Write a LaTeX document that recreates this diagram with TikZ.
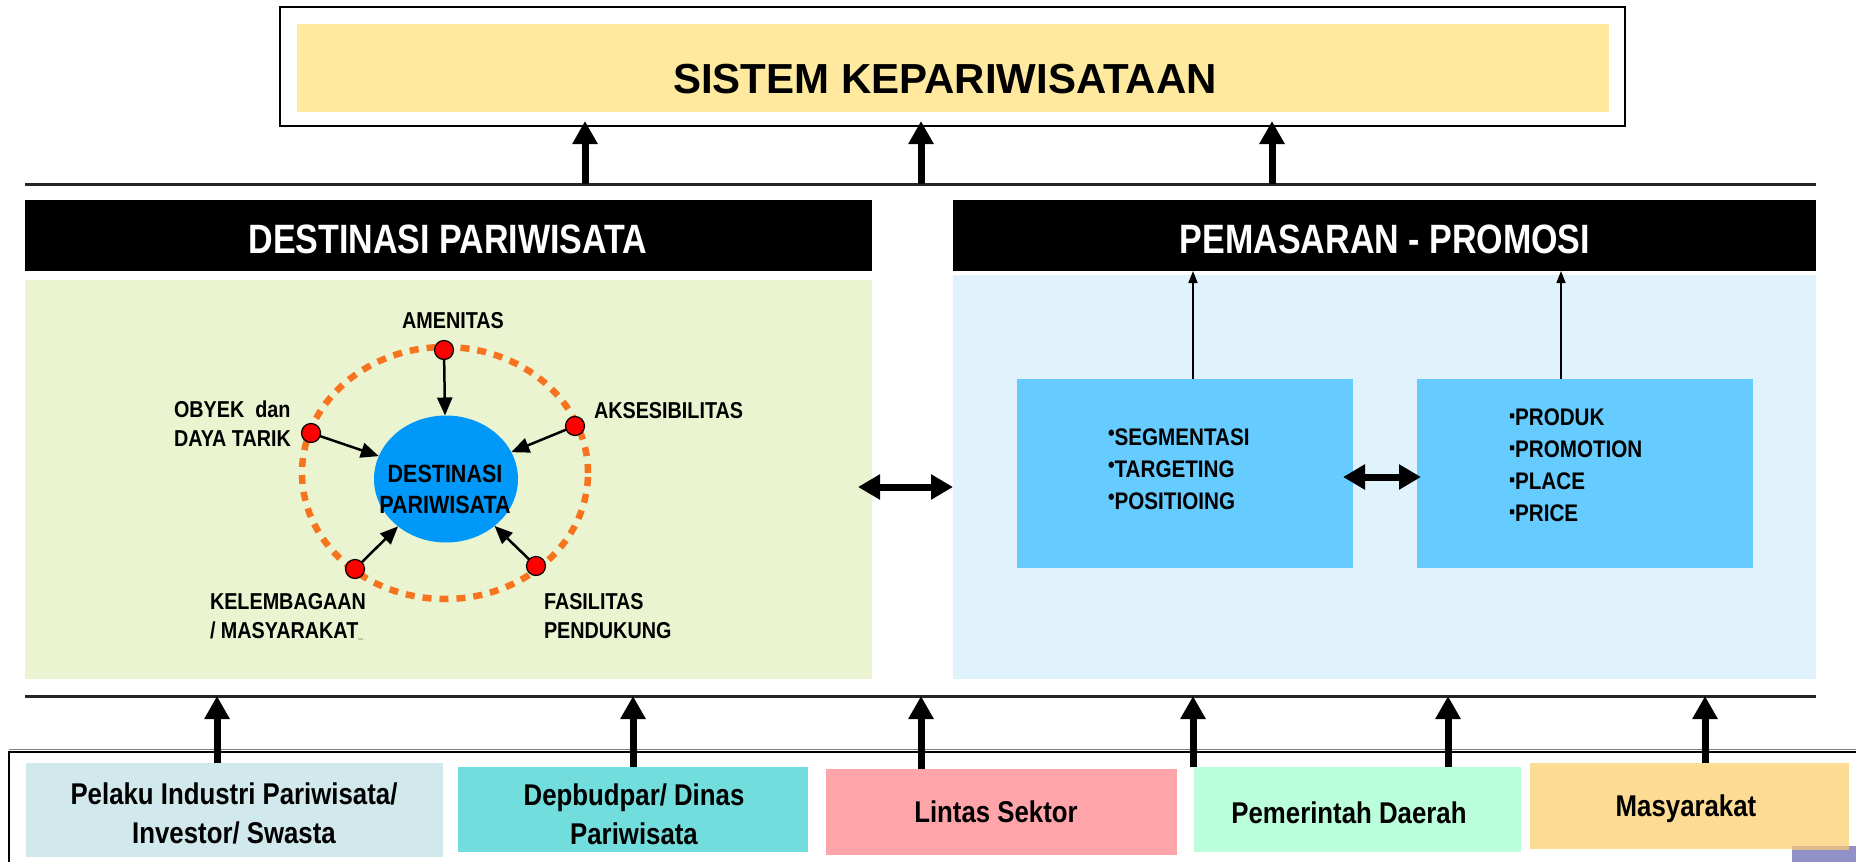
\documentclass[tikz,border=0pt]{standalone}
\usepackage{fontspec}
\setmainfont{Liberation Sans}
\newfontfamily\hdfont[FakeStretch=0.83]{Liberation Sans}
\newfontfamily\nrw[FakeStretch=0.86]{Liberation Sans}
\usetikzlibrary{arrows.meta,shapes.geometric}
\definecolor{titlefill}{HTML}{FEE99E}
\definecolor{greenpanel}{HTML}{EBF4D1}
\definecolor{bluepanel}{HTML}{E0F2FC}
\definecolor{innerblue}{HTML}{66CCFF}
\definecolor{destblue}{HTML}{0099FA}
\definecolor{ringorange}{HTML}{F7731E}
\definecolor{dotred}{HTML}{FF0000}
\definecolor{bOne}{HTML}{D1E8EC}
\definecolor{bTwo}{HTML}{72DDDD}
\definecolor{bThree}{HTML}{FFA5AA}
\definecolor{bFour}{HTML}{BBFEDB}
\definecolor{bFive}{HTML}{FCDB95}
\definecolor{lav}{HTML}{9191C8}
\definecolor{tanstrip}{HTML}{DDB98B}
\newcommand{\rndbul}{{\fontsize{22}{22}\selectfont\raisebox{5pt}{•}}}
\newcommand{\sqbul}{{\fontsize{20}{20}\selectfont\raisebox{3pt}{▪}}}
\begin{document}
\begin{tikzpicture}[x=1pt,y=-1pt,
 rect/.style={rectangle,inner sep=0pt,outer sep=0pt,draw=none},
 lbl/.style={inner sep=0pt,outer sep=0pt,font=\nrw\bfseries\fontsize{23}{29}\selectfont,align=left},
 btxt/.style={inner sep=0pt,outer sep=0pt,font=\nrw\bfseries\fontsize{30}{39}\selectfont,align=center},
 bigarr/.style={line width=7pt,-{Triangle[length=23pt,width=24pt]}},
 dblarr/.style={line width=7pt,{Triangle[length=22pt,width=24pt]}-{Triangle[length=22pt,width=24pt]}},
 thinarr/.style={line width=1.5pt,-{Triangle[length=12pt,width=9pt]}},
 ringarr/.style={line width=2.5pt,-{Triangle[length=18pt,width=15pt]}},
 dot/.style={circle,draw=black,line width=1.2pt,fill=dotred,minimum size=19pt,inner sep=0pt,outer sep=0pt},
 hline/.style={line width=3pt,black!85},
]
\useasboundingbox (0,0) rectangle (1856,862);

% ---------- top system box
\node[rect,draw=black,line width=2pt,fill=white,minimum width=1345pt,minimum height=119pt] (top) at (952.5,66.5) {};
\node[rect,fill=titlefill,minimum width=1312pt,minimum height=88pt] (title) at (953,68) {};
\node[anchor=base,inner sep=0pt,font=\bfseries\fontsize{42}{42}\selectfont] (titletxt) at (945,93) {SISTEM KEPARIWISATAAN};

\draw[hline] (25,184) -- (1816,184);
\coordinate (u1) at (585,184);
\coordinate (u2) at (921,184);
\coordinate (u3) at (1272,184);
\foreach \u in {u1,u2,u3}
  \draw[bigarr,shorten >=-5pt] (\u) -- (\u |- top.south);

% ---------- headers
\node[rect,fill=black,minimum width=847pt,minimum height=71pt] (hdL) at (448.5,235.5) {};
\node[rect,fill=black,minimum width=863pt,minimum height=71pt] (hdR) at (1384.5,235.5) {};
\node[anchor=base,inner sep=0pt,text=white,font=\hdfont\bfseries\fontsize{41}{41}\selectfont] (hdLtxt) at (448,253) {DESTINASI PARIWISATA};
\node[anchor=base,inner sep=0pt,text=white,font=\hdfont\bfseries\fontsize{41}{41}\selectfont] (hdRtxt) at (1385,253) {PEMASARAN - PROMOSI};

% ---------- panels
\node[rect,fill=greenpanel,minimum width=847pt,minimum height=399pt] (green) at (448.5,479.5) {};
\node[rect,fill=bluepanel,minimum width=863pt,minimum height=404pt] (blue) at (1384.5,477) {};

% ---------- destination diagram
\node[ellipse,draw=ringorange,line width=6.5pt,dash pattern=on 9pt off 8pt,minimum width=286pt,minimum height=252pt,inner sep=0pt] (ring) at (445,473) {};
\node[ellipse,fill=destblue,minimum width=144pt,minimum height=127pt,inner sep=0pt,outer sep=0pt] (dest) at (446,479) {};
\node[dot] (dT) at (444,350) {};
\node[dot] (dL) at (311,433) {};
\node[dot] (dR) at (575,426) {};
\node[dot] (dBL) at (355,569) {};
\node[dot] (dBR) at (536,566) {};
\node[anchor=base,inner sep=0pt,font=\nrw\bfseries\fontsize{25}{31}\selectfont,align=center] (desttxt) at (445,513) {DESTINASI\\PARIWISATA};
\foreach \d in {dT,dL,dR,dBL,dBR}
  \draw[ringarr] (\d) -- (dest);

\node[lbl,anchor=base] (amen) at (453,328) {AMENITAS};
\node[lbl,anchor=base west] (obyek) at (174,446) {OBYEK\ \ dan\\DAYA TARIK};
\node[lbl,anchor=base west] (akses) at (594,418) {AKSESIBILITAS};
\node[lbl,anchor=base west] (kelem) at (210,638) {KELEMBAGAAN\\/ MASYARAKAT{\fontsize{10}{10}\selectfont\_}};
\node[lbl,anchor=base west] (fasil) at (544,638) {FASILITAS\\PENDUKUNG};

% ---------- marketing
\node[rect,fill=innerblue,minimum width=336pt,minimum height=189pt] (seg) at (1185,473.5) {};
\node[rect,fill=innerblue,minimum width=336pt,minimum height=189pt] (mix) at (1585,473.5) {};
\node[inner sep=0pt,outer sep=0pt,anchor=base west,align=left,font=\nrw\bfseries\fontsize{24}{32}\selectfont] (segtxt) at (1108,509) {\rndbul SEGMENTASI\\\rndbul TARGETING\\\rndbul POSITIOING};
\node[inner sep=0pt,outer sep=0pt,anchor=base west,align=left,font=\nrw\bfseries\fontsize{24}{32}\selectfont] (mixtxt) at (1509,521) {\sqbul PRODUK\\\sqbul PROMOTION\\\sqbul PLACE\\\sqbul PRICE};
\coordinate (s1) at (1193,271);
\coordinate (s2) at (1561,271);
\draw[thinarr] (seg.north -| s1) -- (s1);
\draw[thinarr] (mix.north -| s2) -- (s2);
\draw[dblarr,shorten <=-10pt,shorten >=-4pt] (seg.east |- 0,477) -- (mix.west |- 0,477);
\draw[dblarr,shorten <=-14pt] (green.east |- 0,487) -- (blue.west |- 0,487);

% ---------- bottom
\draw[hline] (25,696) -- (1816,696);
\draw[line width=2pt] (9,862) -- (9,752) -- (1856,752);
\draw[line width=1pt,black!50] (9,749.5) -- (1856,749.5);
\fill[lav] (1792,846) rectangle (1856,862);
\node[rect,fill=bOne,minimum width=417pt,minimum height=94pt] (b1) at (234.5,810) {};
\node[rect,fill=bTwo,minimum width=350pt,minimum height=85pt] (b2) at (633,809.5) {};
\node[rect,fill=bThree,minimum width=351pt,minimum height=86pt] (b3) at (1001.5,812) {};
\node[rect,fill=bFour,minimum width=327pt,minimum height=85pt] (b4) at (1357.5,809.5) {};
\node[rect,fill=bFive,minimum width=319pt,minimum height=86pt] (b5) at (1689.5,806) {};
\fill[tanstrip] (1792,846) rectangle (1849,850);

\node[btxt,anchor=base] (b1txt) at (234,843) {Pelaku Industri Pariwisata/\\Investor/ Swasta};
\node[btxt,anchor=base] (b2txt) at (634,844) {Depbudpar/ Dinas\\Pariwisata};
\node[btxt,anchor=base] (b3txt) at (996,822) {Lintas Sektor};
\node[btxt,anchor=base] (b4txt) at (1349,823) {Pemerintah Daerah};
\node[btxt,anchor=base] (b5txt) at (1686,816) {Masyarakat};

\coordinate (d1) at (217,696);
\coordinate (d2) at (633,696);
\coordinate (d3) at (921,696);
\coordinate (d4) at (1193,696);
\coordinate (d5) at (1448,696);
\coordinate (d6) at (1705,696);
\draw[bigarr] (b1.north -| d1) -- (d1);
\draw[bigarr] (b2.north -| d2) -- (d2);
\draw[bigarr] (b3.north -| d3) -- (d3);
\draw[bigarr] (b4.north -| d4) -- (d4);
\draw[bigarr] (b4.north -| d5) -- (d5);
\draw[bigarr] (b5.north -| d6) -- (d6);
\end{tikzpicture}
\end{document}
